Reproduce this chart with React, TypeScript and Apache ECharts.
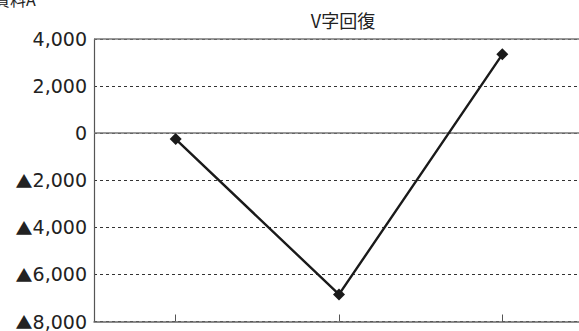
import React, { useEffect, useRef } from "react";
import * as echarts from "echarts";

const categories = ["1", "2", "3"];
const values = [-250, -6850, 3350];
const yMin = -8000;
const yMax = 4000;
const yStep = 2000;
const solidLevels = [0, 4000];

// negative numbers are written with a leading triangle instead of a minus sign
const fmt = (v: number) => {
  const s = Math.abs(v).toLocaleString("en-US");
  return v < 0 ? "{tri|▲}" + s : s;
};

export default function App() {
  const ref = useRef<HTMLDivElement>(null);
  useEffect(() => {
    if (!ref.current) return;
    const chart = echarts.init(ref.current, null, { renderer: "svg" });
    const font = "'DejaVu Sans', 'Noto Sans CJK JP', sans-serif";
    const cjk = "'Noto Sans CJK JP', sans-serif";
    chart.setOption({
      animation: false,
      textStyle: { fontFamily: font },
      title: {
        text: "V字回復",
        left: 338,
        top: 6,
        textAlign: "center",
        textStyle: { fontSize: 18, fontWeight: "normal", color: "#222", fontFamily: cjk },
      },
      graphic: [
        {
          type: "text",
          left: -6,
          top: -9,
          style: { text: "資料A", fontSize: 16, fill: "#222", fontFamily: cjk },
        },
      ],
      grid: { left: 94, right: 0, top: 39, bottom: 8 },
      xAxis: {
        type: "category",
        data: categories,
        boundaryGap: true,
        axisLine: { onZero: false, lineStyle: { color: "#666", width: 1.5 } },
        axisTick: { show: true, inside: true, alignWithLabel: true, length: 7, lineStyle: { color: "#555", width: 1 } },
        axisLabel: { show: false },
        splitLine: { show: false },
      },
      yAxis: {
        type: "value",
        min: yMin,
        max: yMax,
        interval: yStep,
        axisLine: { show: true, lineStyle: { color: "#555", width: 1.2 } },
        axisTick: { show: false },
        axisLabel: {
          formatter: fmt,
          fontSize: 19,
          color: "#222",
          margin: 7,
          fontFamily: font,
          rich: { tri: { fontFamily: cjk, fontSize: 17, color: "#222" } },
        },
        splitLine: { show: true, lineStyle: { type: [3, 3], color: "#333", width: 1 } },
      },
      series: [
        {
          type: "line",
          data: values,
          symbol: "diamond",
          symbolSize: 12,
          lineStyle: { color: "#1a1a1a", width: 2.4 },
          itemStyle: { color: "#1a1a1a" },
          z: 5,
          markLine: {
            silent: true,
            symbol: "none",
            label: { show: false },
            lineStyle: { type: "solid", color: "#777", width: 1.5 },
            data: solidLevels.map((v) => ({ yAxis: v })),
            z: 3,
          },
        },
      ],
    });
    return () => chart.dispose();
  }, []);
  return (
    <div style={{ position: "fixed", left: 0, top: 0, width: 579, height: 331, overflow: "hidden", background: "#fff" }}>
      <div ref={ref} style={{ width: 584, height: 331 }} />
    </div>
  );
}
